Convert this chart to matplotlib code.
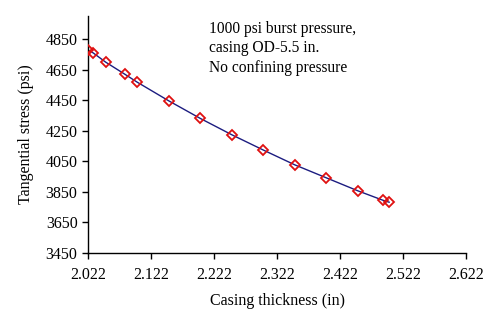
import numpy as np
import matplotlib.pyplot as plt

plt.rcParams['font.family'] = ['Liberation Serif', 'DejaVu Serif']
plt.rcParams['font.size'] = 11

# casing thickness (in) vs tangential stress (psi)
thickness = [2.022, 2.03, 2.05, 2.08, 2.10, 2.15, 2.20, 2.25,
             2.30, 2.35, 2.40, 2.45, 2.49, 2.50]
stress = [4778, 4760, 4699, 4621, 4568, 4446, 4331, 4224,
          4124, 4027, 3942, 3857, 3795, 3782]

xticks = [2.022, 2.122, 2.222, 2.322, 2.422, 2.522, 2.622]
yticks = [3450, 3650, 3850, 4050, 4250, 4450, 4650, 4850]

fig = plt.figure(figsize=(5, 3.23), dpi=100)
ax = fig.add_axes([0.176, 0.217, 0.756, 0.733])

ax.plot(thickness, stress, color='#1c1c80', lw=1.0, zorder=2)
ax.plot(thickness, stress, ls='none', marker='D', ms=4.8, mfc='none',
        mec='#e01010', mew=1.3, zorder=3)

ax.set_xlim(2.022, 2.622)
ax.set_ylim(3450, 5000)
ax.set_xticks(xticks)
ax.set_xticklabels([f'{v:.3f}' for v in xticks])
ax.set_yticks(yticks)

for s in ['top', 'right']:
    ax.spines[s].set_visible(False)
for s in ['left', 'bottom']:
    ax.spines[s].set_linewidth(1.0)
ax.tick_params(direction='out', length=4, width=1.0, labelsize=11.5)
ax.tick_params(axis='x', pad=6)

ax.set_xlabel('Casing thickness (in)', fontsize=11.5, labelpad=7)
ax.set_ylabel('Tangential stress (psi)', fontsize=11.5, labelpad=8)

ax.text(0.321, 0.98, '1000 psi burst pressure,\ncasing OD-5.5 in.\nNo confining pressure',
        transform=ax.transAxes, ha='left', va='top', fontsize=11.2,
        linespacing=1.3)

fig.savefig('out.png', dpi=100)
